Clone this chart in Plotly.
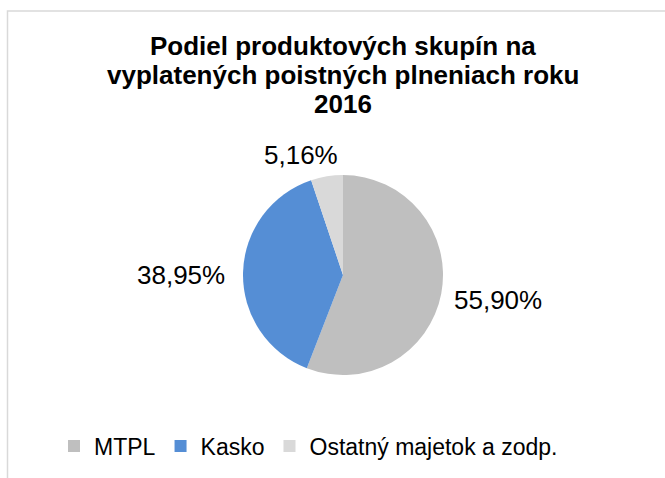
import plotly.graph_objects as go

categories = ["MTPL", "Kasko", "Ostatný majetok a zodp."]
values = [55.90, 38.95, 5.16]
colors = ["#BFBFBF", "#558ED5", "#D9D9D9"]
title_lines = ["Podiel produktových skupín na", "vyplatených poistných plneniach roku", "2016"]

W, H = 665, 478
FONT = "Liberation Sans, Arial, sans-serif"

# pie geometry in pixels (center, radius)
cx, cy, r = 343, 275, 100

fig = go.Figure(go.Pie(
    labels=categories,
    values=values,
    marker=dict(colors=colors, line=dict(width=0)),
    sort=False,
    direction="clockwise",
    rotation=0,
    textinfo="none",
    hoverinfo="label+value",
    domain=dict(x=[(cx - r) / W, (cx + r) / W], y=[(H - cy - r) / H, (H - cy + r) / H]),
))

# data labels, text from the values
label_pos = [(498, 300), (181, 275), (301, 155)]
for v, (px, py) in zip(values, label_pos):
    fig.add_annotation(
        x=px / W, y=1 - py / H, xref="paper", yref="paper",
        text=f"{v:.2f}".replace(".", ",") + "%",
        showarrow=False, xanchor="center", yanchor="middle",
        font=dict(family=FONT, size=26, color="#000000"),
    )

# title as three centred lines
title_y = [46, 75, 104]
for t, py in zip(title_lines, title_y):
    fig.add_annotation(
        x=343 / W, y=1 - py / H, xref="paper", yref="paper",
        text=f"<b>{t}</b>", showarrow=False, xanchor="center", yanchor="middle",
        font=dict(family=FONT, size=26, color="#000000"),
    )

fig.add_shape(type="rect", xref="paper", yref="paper",
              x0=7.5 / W, x1=1.05, y0=-0.05, y1=1 - 11 / H,
              line=dict(color="#D9D9D9", width=1.5), fillcolor="rgba(0,0,0,0)", layer="below")

fig.update_layout(
    width=W, height=H,
    margin=dict(l=0, r=0, t=0, b=0),
    paper_bgcolor="white",
    plot_bgcolor="white",
    separators=",.",
    legend=dict(
        orientation="h",
        x=54 / W, xanchor="left",
        y=1 - 446 / H, yanchor="middle",
        font=dict(family=FONT, size=23, color="#000000"),
        itemclick=False,
        traceorder="normal",
    ),
    showlegend=True,
)

fig.write_html("out.html", config={"displayModeBar": False},
               post_script="document.body.style.margin='0';")
